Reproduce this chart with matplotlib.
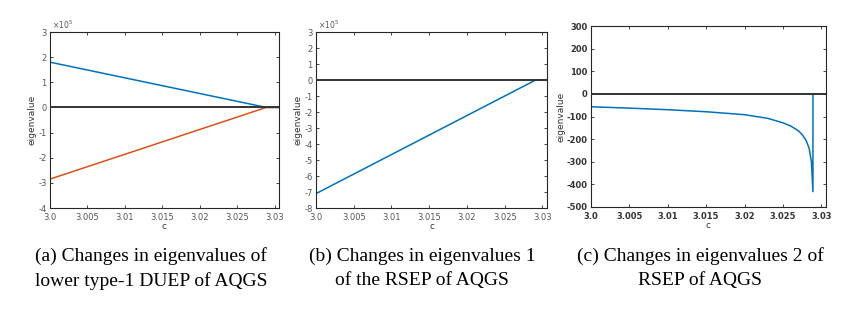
import numpy as np
import matplotlib.pyplot as plt

plt.rcParams['axes.unicode_minus'] = False

# panel (a): lower type-1 DUEP eigenvalues (x1e5)
c_a = [3.0, 3.0289, 3.0306]
eig_a1 = [1.8, 0.0, 0.0]
eig_a2 = [-2.85, 0.0, 0.0]

# panel (b): RSEP eigenvalue 1 (x1e5)
c_b = [3.0, 3.0291, 3.0306]
eig_b = [-7.1, 0.0, 0.0]

# panel (c): RSEP eigenvalue 2
c_c = [3.0, 3.005, 3.01, 3.015, 3.02, 3.023, 3.025, 3.026, 3.027, 3.0275,
       3.028, 3.0284, 3.0287, 3.0289, 3.0289, 3.0306]
eig_c = [-57, -63, -70, -79, -92, -108, -128, -142, -163, -180,
         -205, -240, -300, -432, 0, 0]

captions = [("(a) Changes in eigenvalues of", "lower type-1 DUEP of AQGS"),
            ("(b) Changes in eigenvalues 1", "of the RSEP of AQGS"),
            ("(c) Changes in eigenvalues 2 of", "RSEP of AQGS")]

blue = "#0072BD"
orange = "#D95319"
W, H = 864, 311

fig = plt.figure(figsize=(8.64, 3.11), dpi=100)

def make_ax(l, r, t, b):
    return fig.add_axes([l / W, 1 - b / H, (r - l) / W, (b - t) / H])

ax1 = make_ax(50, 279, 32, 208)
ax2 = make_ax(316, 547, 32, 208)
ax3 = make_ax(591, 826, 26, 207)

xt = [3.0, 3.005, 3.01, 3.015, 3.02, 3.025, 3.03]
xtl = ["3.0", "3.005", "3.01", "3.015", "3.02", "3.025", "3.03"]

for ax in (ax1, ax2, ax3):
    ax.axhline(0, color="#333333", lw=1.4, zorder=3)
    ax.set_xlim(3.0, 3.0306)
    ax.set_xticks(xt)
    ax.set_xticklabels(xtl)
    ax.tick_params(direction="in", top=True, right=True, labelsize=6,
                   length=2.5, width=0.6, colors="#262626",
                   labelcolor="#555555")
    ax.tick_params(axis="x", pad=3.5)
    ax.tick_params(axis="y", pad=2.5)
    for s in ax.spines.values():
        s.set_linewidth(0.8)
        s.set_color("#262626")
    ax.set_xlabel("c", fontsize=6.5, labelpad=0, color="#333333")
    ax.set_ylabel("eigenvalue", fontsize=6.5, labelpad=1, color="#333333")

ax1.plot(c_a, eig_a1, color=blue, lw=1.1)
ax1.plot(c_a, eig_a2, color=orange, lw=1.1)
ax1.set_ylim(-4, 3)
ax1.set_yticks(range(-4, 4))
ax1.text(0.01, 1.005, r"$\times10^5$", transform=ax1.transAxes,
         fontsize=5.5, color="#555555", va="bottom")

ax2.plot(c_b, eig_b, color=blue, lw=1.1)
ax2.set_ylim(-8, 3)
ax2.set_yticks(range(-8, 4))
ax2.text(0.01, 1.005, r"$\times10^5$", transform=ax2.transAxes,
         fontsize=5.5, color="#555555", va="bottom")

ax3.plot(c_c, eig_c, color=blue, lw=1.1)
ax3.set_ylim(-500, 300)
ax3.set_yticks(range(-500, 301, 100))
ax3.tick_params(labelcolor="#333333")
for lab in ax3.get_xticklabels() + ax3.get_yticklabels():
    lab.set_fontweight("bold")

cap_x = [151, 422, 700]
for x, (l1, l2) in zip(cap_x, captions):
    fig.text(x / W, 1 - 256 / H, l1, ha="center", va="center",
             fontsize=14, family="Liberation Serif")
    fig.text(x / W, 1 - 281 / H, l2, ha="center", va="center",
             fontsize=14, family="Liberation Serif")

fig.savefig("out.png", dpi=100)
